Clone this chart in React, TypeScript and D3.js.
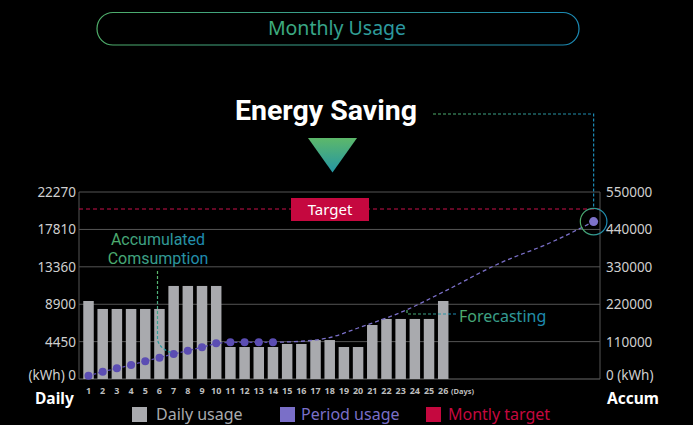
import React from "react";
import * as d3 from "d3";

const days = [1, 2, 3, 4, 5, 6, 7, 8, 9, 10, 11, 12, 13, 14, 15, 16, 17, 18, 19, 20, 21, 22, 23, 24, 25, 26];
const dailyUsage = [9290, 8340, 8340, 8340, 8340, 8340, 11080, 11080, 11080, 11080, 3810, 3810, 3810, 3810, 4170, 4170, 4640, 4640, 3810, 3810, 6430, 7150, 7150, 7150, 7150, 9290];
const periodDays = [1, 2, 3, 4, 5, 6, 7, 8, 9, 10, 11, 12, 13, 14];
const periodUsage = [9700, 21500, 31400, 41200, 52000, 62700, 73500, 83300, 93200, 105000, 108000, 108000, 108000, 108000];
const forecastDays = [14, 16, 18, 20, 23.4, 26, 30, 33.5, 36.6];
const forecastUsage = [108000, 111000, 122000, 150000, 203000, 256000, 341000, 400000, 463000];
const monthlyTarget = 500000;
const leftTicks = [0, 4450, 8900, 13360, 17810, 22270];
const rightTicks = [0, 110000, 220000, 330000, 440000, 550000];

const FONT = "'Noto Sans', 'Open Sans', sans-serif";

export default function App() {
  const W = 693, H = 425;
  const left = 79, right = 600, top = 192, bottom = 379;

  const x = d3.scaleLinear().domain([0.33, 37.05]).range([left, right]);
  const yL = d3.scaleLinear().domain([0, 22270]).range([bottom, top]);
  const yR = d3.scaleLinear().domain([0, 550000]).range([bottom, top]);
  const barW = 10.5;

  const periodLine = d3.line<number>()
    .x((_, i) => x(periodDays[i]))
    .y(d => yR(d));
  const forecastLine = d3.line<number>()
    .x((_, i) => x(forecastDays[i]))
    .y(d => yR(d))
    .curve(d3.curveMonotoneX);

  const endX = x(forecastDays[forecastDays.length - 1]);
  const endY = yR(forecastUsage[forecastUsage.length - 1]);

  // tick label vertical placement (bottom labels sit a bit above the baseline)
  const tickY = (y: number) => Math.min(y, 375) + 5;

  return (
    <svg width={W} height={H} style={{ position: "absolute", left: 0, top: 0, background: "#000" }} fontFamily={FONT}>
      <defs>
        <linearGradient id="gh" x1="0" x2="1" y1="0" y2="0">
          <stop offset="0" stopColor="#4fae6a" />
          <stop offset="1" stopColor="#1b8ab5" />
        </linearGradient>
        <linearGradient id="gv" x1="0" x2="0" y1="0" y2="1">
          <stop offset="0" stopColor="#5db86a" />
          <stop offset="1" stopColor="#2496a5" />
        </linearGradient>
        <linearGradient id="gt" x1="0" x2="1" y1="0" y2="0">
          <stop offset="0" stopColor="#3fae7a" />
          <stop offset="1" stopColor="#2a97a5" />
        </linearGradient>
      </defs>
      <rect x={0} y={0} width={W} height={H} fill="#000" />

      {/* title pill */}
      <rect x={97} y={12.5} width={482} height={32.5} rx={16} fill="none" stroke="url(#gh)" strokeWidth={1.2} />
      <text x={337} y={35} textAnchor="middle" fontSize={19.5} fill="url(#gt)">Monthly Usage</text>

      <text x={326} y={120} textAnchor="middle" fontSize={28.5} fontWeight="bold" fill="#fff" fontFamily="Roboto, sans-serif">Energy Saving</text>
      <path d="M308,138 L357,138 L332.5,172.5 Z" fill="url(#gv)" />

      {/* grid */}
      {leftTicks.map(t => (
        <line key={t} x1={left} x2={right} y1={yL(t)} y2={yL(t)} stroke={t === 0 ? "#6a6a6a" : "#555"} strokeWidth={1} />
      ))}
      <line x1={left} x2={left} y1={top} y2={bottom} stroke="#555" />
      <line x1={right} x2={right} y1={top} y2={bottom} stroke="#555" />

      {/* left ticks */}
      {leftTicks.map(t => (
        <text key={t} x={76} y={tickY(yL(t))} textAnchor="end" fontSize={13.5} fill="#cfcfcf">
          {t === 0 ? "(kWh) 0" : t}
        </text>
      ))}
      {rightTicks.map(t => (
        <text key={t} x={606} y={tickY(yR(t))} fontSize={13.5} fill="#cfcfcf">
          {t === 0 ? "0 (kWh)" : t}
        </text>
      ))}

      {/* target */}
      <line x1={left} x2={right} y1={yR(monthlyTarget)} y2={yR(monthlyTarget)} stroke="#c8104a" strokeDasharray="4,3" strokeWidth={1} />
      <rect x={291} y={198} width={78} height={23} fill="#c5083f" />
      <text x={330} y={215} textAnchor="middle" fontSize={15} fill="#fff">Target</text>

      {/* bars */}
      {dailyUsage.map((v, i) => (
        <rect key={i} x={x(days[i]) - barW / 2} y={yL(v)} width={barW} height={bottom - yL(v)} fill="#a9aaae" />
      ))}

      {/* day labels */}
      {days.map(d => (
        <text key={d} x={x(d)} y={393.5} textAnchor="middle" fontSize={9} fontWeight="bold" fill="#bdbdbd">{d}</text>
      ))}
      <text x={451} y={393.5} fontSize={7.5} fontWeight="bold" fill="#bdbdbd">(Days)</text>

      {/* forecast line */}
      <path d={forecastLine(forecastUsage) || ""} fill="none" stroke="#7a6fc8" strokeWidth={1.3} strokeDasharray="4,3" />
      {/* period usage */}
      <path d={periodLine(periodUsage) || ""} fill="none" stroke="#5a4cb0" strokeWidth={1.3} strokeDasharray="3,2" />
      {periodUsage.map((v, i) => (
        <circle key={i} cx={x(periodDays[i])} cy={yR(v)} r={4} fill="#5b4db3" />
      ))}

      {/* accumulated annotation */}
      <text x={158} y={245} textAnchor="middle" fontSize={16} fill="url(#gh)" fontFamily="Roboto, sans-serif">Accumulated</text>
      <text x={158} y={263.5} textAnchor="middle" fontSize={16} fill="url(#gh)" fontFamily="Roboto, sans-serif">Comsumption</text>
      <path d="M157.5,271 L157.5,340 Q160,349 172,353" fill="none" stroke="url(#gv)" strokeWidth={1.2} strokeDasharray="3,2" />

      {/* forecasting annotation */}
      <path d="M407,310 L407,314 L456,314" fill="none" stroke="url(#gh)" strokeWidth={1.2} strokeDasharray="3,2" />
      <text x={459} y={322} fontSize={16} fill="url(#gh)">Forecasting</text>

      {/* end marker */}
      <circle cx={endX} cy={endY} r={13.3} fill="none" stroke="url(#gh)" strokeWidth={1.2} />
      <circle cx={endX} cy={endY} r={4.5} fill="#7d72c9" />
      <path d={`M433,114 L${endX},114 L${endX},${endY - 13.5}`} fill="none" stroke="url(#gh)" strokeWidth={1.2} strokeDasharray="3,2" />

      {/* axis titles */}
      <text x={35} y={404} fontSize={15.5} fontWeight="bold" fill="#fff">Daily</text>
      <text x={607} y={404} fontSize={15.5} fontWeight="bold" fill="#fff">Accum</text>

      {/* legend */}
      <rect x={132} y={407} width={15} height={15} fill="#a9aaae" />
      <text x={156} y={420} fontSize={16} fill="#a9aaae">Daily usage</text>
      <rect x={280} y={407} width={15} height={15} fill="#7a6fc8" />
      <text x={301} y={420} fontSize={16} fill="#7a6fc8">Period usage</text>
      <rect x={426} y={407} width={15} height={15} fill="#c5083f" />
      <text x={448} y={420} fontSize={16} fill="#c5083f">Montly target</text>
    </svg>
  );
}
